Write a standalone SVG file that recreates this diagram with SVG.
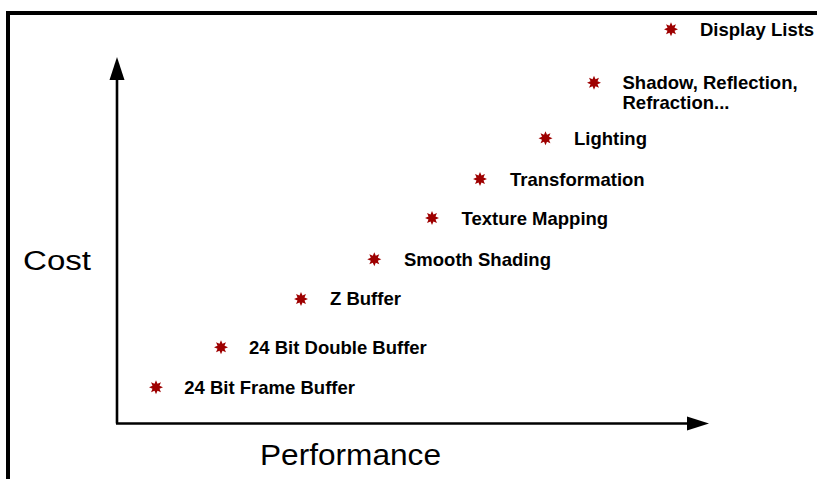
<svg xmlns="http://www.w3.org/2000/svg" xmlns:xlink="http://www.w3.org/1999/xlink" width="817" height="479" viewBox="0 0 817 479">
<style>
.lbl{font-family:"Liberation Sans",Arial,sans-serif;font-weight:bold;font-size:18.5px;fill:#000}
.axl{font-family:"Liberation Sans",Arial,sans-serif;font-weight:normal;fill:#000}
.star{fill:#9e0000}
.ax{stroke:#000;stroke-width:2.6;fill:none}
</style>
<defs>
<polygon id="st" class="star" points="0,-7 1.5,-3.5 4.95,-4.95 3.5,-1.5 7,0 3.5,1.5 4.95,4.95 1.5,3.5 0,7 -1.5,3.5 -4.95,4.95 -3.5,1.5 -7,0 -3.5,-1.5 -4.95,-4.95 -1.5,-3.5"/>
</defs>
<rect width="817" height="479" fill="#fff"/>
<path d="M8,479 V13 H817" fill="none" stroke="#000" stroke-width="4"/>
<g id="connectors">
<line class="ax" x1="117" y1="423.5" x2="117" y2="78"/>
<polygon points="117,57 109.5,80 124.5,80" fill="#000"/>
<line class="ax" x1="116" y1="423.5" x2="689" y2="423.5"/>
<polygon points="709,423.5 687,416.5 687,430.5" fill="#000"/>
</g>
<g id="axis-cost"><text class="axl" x="23" y="270" font-size="27" textLength="68" lengthAdjust="spacingAndGlyphs">Cost</text></g>
<g id="axis-performance"><text class="axl" x="260" y="465" font-size="29" textLength="181" lengthAdjust="spacingAndGlyphs">Performance</text></g>
<g id="n-display-lists"><use xlink:href="#st" x="671" y="29.3"/><text class="lbl" x="700" y="35.5">Display Lists</text></g>
<g id="n-shadow"><use xlink:href="#st" x="594" y="82.7"/><text class="lbl" x="622.5" y="88.5">Shadow, Reflection,</text><text class="lbl" x="622.5" y="109.3">Refraction...</text></g>
<g id="n-lighting"><use xlink:href="#st" x="545.5" y="138.3"/><text class="lbl" x="574" y="144.5">Lighting</text></g>
<g id="n-transformation"><use xlink:href="#st" x="480" y="179"/><text class="lbl" x="510" y="185.5">Transformation</text></g>
<g id="n-texture-mapping"><use xlink:href="#st" x="432" y="218"/><text class="lbl" x="461.5" y="224.5">Texture Mapping</text></g>
<g id="n-smooth-shading"><use xlink:href="#st" x="374.3" y="259.3"/><text class="lbl" x="404" y="266">Smooth Shading</text></g>
<g id="n-z-buffer"><use xlink:href="#st" x="301" y="299"/><text class="lbl" x="330" y="305.3">Z Buffer</text></g>
<g id="n-double-buffer"><use xlink:href="#st" x="221" y="347.3"/><text class="lbl" x="249" y="354">24 Bit Double Buffer</text></g>
<g id="n-frame-buffer"><use xlink:href="#st" x="156" y="387.3"/><text class="lbl" x="184.3" y="394">24 Bit Frame Buffer</text></g>
</svg>
